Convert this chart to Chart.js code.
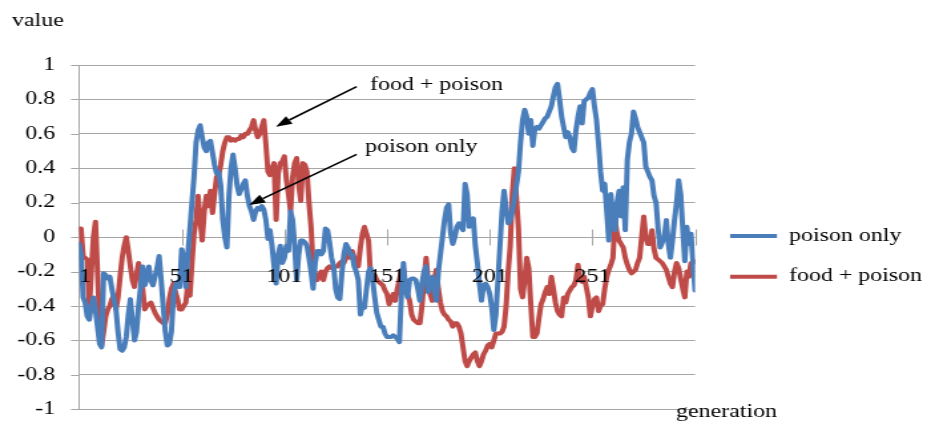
<!DOCTYPE html>
<html><head><meta charset="utf-8">
<script src="https://cdn.jsdelivr.net/npm/chart.js@4"></script>
<style>
html,body{margin:0;padding:0;background:#fff;overflow:hidden}
#wrap{position:absolute;left:0;top:0;width:697px;height:425px;transform:scaleX(1.33);transform-origin:0 0}
</style></head><body>
<div id="wrap"><canvas id="c" width="697" height="425"></canvas></div>
<script>
// ---- data (generation 1..301) ----
const poisonOnly = [
-0.04,-0.10,-0.35,-0.38,-0.46,-0.48,-0.40,-0.35,-0.42,-0.52,
-0.62,-0.64,-0.21,-0.22,-0.24,-0.23,-0.30,-0.36,-0.42,-0.55,
-0.65,-0.66,-0.64,-0.58,-0.45,-0.36,-0.48,-0.60,-0.55,-0.40,
-0.29,-0.17,-0.28,-0.24,-0.17,-0.25,-0.28,-0.23,-0.18,-0.11,
-0.25,-0.40,-0.55,-0.63,-0.62,-0.55,-0.34,-0.28,-0.26,-0.29,
-0.07,-0.12,-0.29,-0.10,0.05,0.20,0.35,0.55,0.62,0.65,
0.58,0.52,0.50,0.55,0.56,0.49,0.42,0.37,0.38,0.30,
0.10,0.00,-0.06,0.24,0.40,0.48,0.40,0.30,0.25,0.28,
0.31,0.33,0.24,0.18,0.15,0.10,0.15,0.17,0.16,0.18,
0.16,0.10,-0.01,0.04,-0.05,-0.17,-0.27,-0.10,-0.05,-0.15,
-0.12,-0.05,-0.08,0.15,0.10,-0.05,-0.25,-0.10,-0.02,-0.02,
-0.03,-0.05,-0.12,-0.20,-0.30,-0.15,-0.08,-0.08,-0.10,-0.08,
0.05,0.04,-0.03,-0.12,-0.17,-0.30,-0.35,-0.36,-0.21,-0.10,
-0.04,-0.06,-0.10,-0.10,-0.17,-0.20,-0.25,-0.45,-0.40,-0.41,
-0.30,-0.20,-0.18,-0.25,-0.35,-0.44,-0.48,-0.52,-0.52,-0.56,
-0.58,-0.58,-0.58,-0.57,-0.58,-0.59,-0.61,-0.33,-0.15,-0.30,
-0.35,-0.25,-0.24,-0.24,-0.25,-0.30,-0.37,-0.27,-0.20,-0.17,
-0.32,-0.28,-0.23,-0.30,-0.37,-0.20,-0.10,0.00,0.10,0.17,
0.19,0.02,-0.04,0.00,0.06,0.08,0.06,0.04,0.31,0.25,
0.06,0.09,0.11,-0.05,-0.15,-0.27,-0.37,-0.28,-0.27,-0.29,
-0.33,-0.41,-0.54,-0.45,-0.25,-0.05,0.15,0.27,0.17,0.08,
0.10,0.15,0.22,0.30,0.38,0.55,0.68,0.74,0.70,0.60,
0.68,0.53,0.63,0.64,0.63,0.65,0.67,0.69,0.70,0.73,
0.76,0.82,0.87,0.89,0.80,0.70,0.64,0.58,0.61,0.58,
0.52,0.50,0.62,0.70,0.76,0.66,0.79,0.80,0.81,0.84,
0.86,0.76,0.68,0.54,0.38,0.27,0.31,0.15,-0.02,0.25,
0.10,0.04,0.20,0.27,0.12,0.29,0.04,0.45,0.55,0.60,
0.73,0.69,0.64,0.61,0.58,0.55,0.41,0.38,0.35,0.33,
0.24,0.20,0.05,-0.06,-0.03,0.00,0.10,-0.04,-0.12,-0.02,
0.10,0.20,0.33,0.25,0.05,-0.14,0.06,-0.04,0.02,-0.15,
-0.31
];
const foodPoison = [
0.05,0.05,-0.11,-0.12,-0.13,-0.42,-0.20,0.00,0.09,-0.20,
-0.50,-0.63,-0.55,-0.46,-0.42,-0.40,-0.36,-0.34,-0.42,-0.35,
-0.23,-0.12,-0.05,0.00,-0.08,-0.17,-0.25,-0.29,-0.22,-0.15,
-0.22,-0.30,-0.42,-0.40,-0.39,-0.38,-0.41,-0.44,-0.46,-0.48,
-0.49,-0.50,-0.50,-0.45,-0.36,-0.30,-0.27,-0.32,-0.36,-0.42,
-0.42,-0.40,-0.38,-0.27,-0.34,-0.15,0.02,0.10,0.24,0.10,
-0.02,0.15,0.24,0.18,0.27,0.14,0.25,0.35,0.36,0.42,
0.50,0.55,0.58,0.58,0.56,0.57,0.56,0.57,0.57,0.59,
0.58,0.60,0.60,0.62,0.64,0.68,0.62,0.58,0.60,0.64,
0.68,0.54,0.38,0.36,0.40,0.43,0.10,0.37,0.43,0.44,
0.47,0.33,0.25,0.15,0.35,0.43,0.46,0.30,0.21,0.43,
0.42,0.38,0.20,0.06,-0.17,-0.22,-0.25,-0.22,-0.20,-0.25,
-0.20,-0.18,-0.17,-0.18,-0.17,-0.17,-0.17,-0.15,-0.14,-0.15,
-0.12,-0.08,-0.12,-0.08,-0.12,-0.14,-0.17,-0.06,0.02,0.06,
0.02,-0.02,-0.23,-0.22,-0.22,-0.25,-0.26,-0.27,-0.28,-0.31,
-0.33,-0.39,-0.36,-0.33,-0.37,-0.30,-0.25,-0.19,-0.19,-0.28,
-0.33,-0.37,-0.45,-0.48,-0.49,-0.50,-0.50,-0.40,-0.25,-0.12,
-0.25,-0.33,-0.37,-0.25,-0.19,-0.30,-0.38,-0.43,-0.45,-0.46,
-0.48,-0.49,-0.52,-0.50,-0.50,-0.52,-0.56,-0.64,-0.72,-0.75,
-0.72,-0.70,-0.68,-0.67,-0.72,-0.75,-0.72,-0.68,-0.66,-0.63,
-0.62,-0.64,-0.60,-0.56,-0.56,-0.56,-0.55,-0.52,-0.40,-0.20,
-0.05,0.25,0.40,0.23,0.05,-0.30,-0.35,-0.25,-0.12,-0.18,
-0.39,-0.58,-0.58,-0.56,-0.47,-0.39,-0.36,-0.32,-0.29,-0.33,
-0.23,-0.30,-0.38,-0.43,-0.45,-0.46,-0.35,-0.38,-0.33,-0.31,
-0.29,-0.28,-0.25,-0.16,-0.25,-0.26,-0.23,-0.29,-0.35,-0.46,
-0.40,-0.36,-0.35,-0.43,-0.40,-0.39,-0.30,-0.23,-0.19,-0.16,
-0.12,0.10,0.02,-0.02,-0.04,-0.06,-0.12,-0.16,-0.19,-0.21,
-0.20,-0.19,-0.15,-0.12,0.00,0.12,0.00,-0.04,-0.04,0.04,
-0.07,-0.12,-0.13,-0.14,-0.15,-0.17,-0.19,-0.23,-0.27,-0.29,
-0.20,-0.15,-0.18,-0.24,-0.30,-0.35,-0.20,-0.23,-0.15,-0.15,
-0.14
];
const generations = poisonOnly.map((_, i) => i + 1);
const seriesNames = ['poison only', 'food + poison'];
const xTickValues = [1, 51, 101, 151, 201, 251, 301];
const xTickLabels = ['1', '51', '101', '151', '201', '251', ''];
const yAxisName = 'value';
const xAxisName = 'generation';
const notes = [
  {text: 'food + poison', tx: 142.7, ty: 0.884, ax: 136.2, ay: 0.874, hx: 96.9, hy: 0.642},
  {text: 'poison only',   tx: 140.3, ty: 0.525, ax: 136.2, ay: 0.481, hx: 83.9, hy: 0.187}
];

// ---- styles ----
const BLUE = '#4A7EBB', RED = '#BE4B48', GRID = '#A6A6A6';
const FONT = {family: "'Liberation Serif', 'Times New Roman', serif", size: 18};
const FONTSTR = "18px 'Liberation Serif', 'Times New Roman', serif";

const decor = {
  id: 'decor',
  afterLayout(chart) {
    const lg = chart.legend;
    if (lg) { lg.left = 526.2; lg.top = 204.3; lg.right = 697; lg.bottom = 425; }
  },
  beforeDatasetsDraw(chart) {
    const ctx = chart.ctx, xs = chart.scales.x, ys = chart.scales.y;
    const y0 = Math.round(ys.getPixelForValue(0)) + 0.5;
    const left = chart.chartArea.left;
    ctx.save();
    ctx.strokeStyle = GRID; ctx.lineWidth = 1;
    xTickValues.forEach(v => {
      const px = Math.round(xs.getPixelForValue(v)) + 0.5;
      ctx.beginPath(); ctx.moveTo(px, y0 - 8); ctx.lineTo(px, y0 + 8); ctx.stroke();
    });
    ys.ticks.forEach(t => {
      const py = Math.round(ys.getPixelForValue(t.value)) + 0.5;
      ctx.beginPath(); ctx.moveTo(left - 6, py); ctx.lineTo(left, py); ctx.stroke();
    });
    ctx.restore();
  },
  afterDraw(chart) {
    const ctx = chart.ctx, xs = chart.scales.x, ys = chart.scales.y;
    ctx.save();
    ctx.fillStyle = '#000'; ctx.strokeStyle = '#000';
    ctx.font = FONTSTR;
    ctx.textAlign = 'left'; ctx.textBaseline = 'alphabetic';
    ctx.fillText(yAxisName, 9, 26);
    ctx.textBaseline = 'middle';
    ctx.fillText(xAxisName, 508.3, 412);
    notes.forEach(n => {
      ctx.fillText(n.text, xs.getPixelForValue(n.tx), ys.getPixelForValue(n.ty));
      const sx = xs.getPixelForValue(n.ax), sy = ys.getPixelForValue(n.ay);
      const hx = xs.getPixelForValue(n.hx), hy = ys.getPixelForValue(n.hy);
      const ang = Math.atan2(hy - sy, hx - sx);
      const L = 12, W = 4.5;
      const bx = hx - L * Math.cos(ang), by = hy - L * Math.sin(ang);
      ctx.lineWidth = 1.6;
      ctx.beginPath(); ctx.moveTo(sx, sy); ctx.lineTo(bx, by); ctx.stroke();
      ctx.beginPath();
      ctx.moveTo(hx, hy);
      ctx.lineTo(bx + W * Math.sin(ang), by - W * Math.cos(ang));
      ctx.lineTo(bx - W * Math.sin(ang), by + W * Math.cos(ang));
      ctx.closePath(); ctx.fill();
    });
    ctx.restore();
  }
};

new Chart(document.getElementById('c'), {
  type: 'line',
  data: {
    datasets: [
      {label: seriesNames[0], data: poisonOnly.map((v, i) => ({x: generations[i], y: v})),
       borderColor: BLUE, backgroundColor: BLUE, borderWidth: 4, pointRadius: 0, tension: 0,
       borderJoinStyle: 'round', borderCapStyle: 'round', fill: false},
      {label: seriesNames[1], data: foodPoison.map((v, i) => ({x: generations[i], y: v})),
       borderColor: RED, backgroundColor: RED, borderWidth: 4, pointRadius: 0, tension: 0,
       borderJoinStyle: 'round', borderCapStyle: 'round', fill: false}
    ]
  },
  options: {
    responsive: false,
    animation: false,
    devicePixelRatio: 1,
    layout: {padding: {left: 0, top: 65, right: 174.4, bottom: 15.7}},
    plugins: {
      title: {display: false},
      tooltip: {enabled: false},
      legend: {
        display: true, position: 'chartArea', align: 'start',
        labels: {usePointStyle: true, pointStyle: 'line', pointStyleWidth: 35.3,
                 padding: 22.7, color: '#000', font: FONT}
      }
    },
    scales: {
      x: {
        type: 'linear', min: 1, max: 301, position: {y: 0},
        afterBuildTicks: s => { s.ticks = xTickValues.map(v => ({value: v})); },
        ticks: {z: 1, autoSkip: false, maxRotation: 0, align: 'inner', padding: 29, color: '#000', font: FONT,
                callback: (v, i) => xTickLabels[i]},
        grid: {display: false, drawOnChartArea: false, drawTicks: false},
        border: {display: false}
      },
      y: {
        min: -1, max: 1,
        afterFit: s => { s.width = 59.4; },
        ticks: {stepSize: 0.2, padding: 0, color: '#000', font: FONT,
                callback: v => String(Math.round(v * 10) / 10)},
        grid: {color: GRID, lineWidth: 1, drawTicks: true, tickLength: 18, tickColor: 'rgba(0,0,0,0)'},
        border: {display: true, color: GRID, width: 1}
      }
    }
  },
  plugins: [decor]
});
</script>
</body></html>
